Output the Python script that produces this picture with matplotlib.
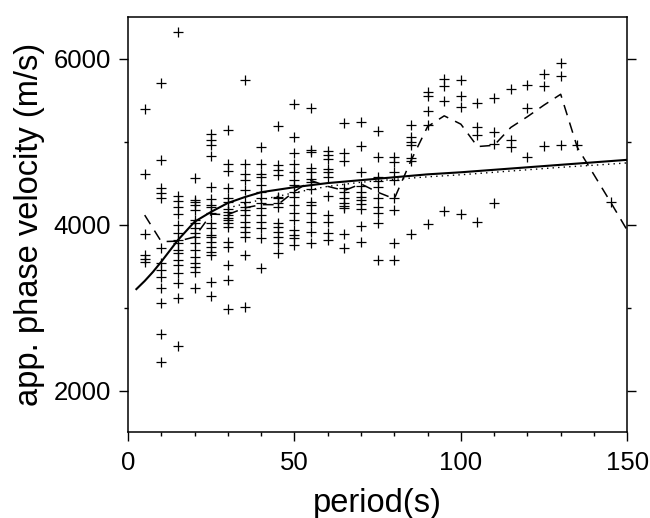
import numpy as np
import matplotlib
matplotlib.use("Agg")
import matplotlib.pyplot as plt
from matplotlib.ticker import MultipleLocator

# observed apparent phase velocities (m/s), one list per period
obs_period = [5, 10, 15, 20, 25, 30, 35, 40, 45, 50, 55, 60, 65, 70,
              75, 80, 85, 90, 95, 100, 105, 110, 115, 120, 125, 130, 135, 145]
obs_velocity = [
    [5390, 4610, 3890, 3630, 3590, 3550],
    [5700, 4780, 4435, 4375, 4315, 3714, 3534, 3454, 3373, 3233, 3053, 2681, 2345],
    [6320, 4340, 4285, 4214, 4130, 3990, 3900, 3814, 3774, 3694, 3654, 3573, 3513,
     3413, 3293, 3113, 2540],
    [4560, 4300, 4270, 4235, 4175, 4055, 4014, 3954, 3900, 3854, 3774, 3694, 3614,
     3534, 3494, 3433, 3233],
    [5090, 5023, 4960, 4830, 4454, 4303, 4234, 4214, 4135, 4014, 3954, 3874, 3854,
     3794, 3734, 3674, 3634, 3313, 3133],
    [5144, 4730, 4643, 4435, 4315, 4274, 4183, 4154, 4114, 4074, 4055, 4014, 3974,
     3794, 3734, 3514, 3333, 2985],
    [5740, 4735, 4615, 4535, 4415, 4274, 4214, 4174, 4114, 4034, 3974, 3914, 3854,
     3634, 3005],
    [4940, 4735, 4615, 4575, 4475, 4395, 4315, 4255, 4195, 4114, 4034, 3954, 3834, 3473],
    [5190, 4720, 4660, 4595, 4334, 4315, 4255, 4214, 4014, 3974, 3914, 3854, 3782, 3654],
    [5450, 5060, 4860, 4735, 4635, 4535, 4475, 4395, 4327, 4234, 4134, 4055, 3934,
     3874, 3834, 3754],
    [5410, 4900, 4875, 4680, 4630, 4550, 4510, 4430, 4270, 4230, 4140, 4034, 3910, 3774],
    [4890, 4840, 4790, 4670, 4630, 4570, 4350, 4110, 4030, 3900, 3814],
    [5220, 4860, 4770, 4435, 4390, 4315, 4255, 4220, 4195, 3882, 3714],
    [5230, 4950, 4630, 4470, 4395, 4335, 4290, 4250, 4190, 3986, 3794],
    [5125, 4810, 4575, 4530, 4455, 4315, 4215, 4134, 4014, 3573],
    [4810, 4750, 4630, 4540, 4315, 4170, 3774, 3573],
    [5205, 5060, 5000, 4960, 4800, 4760, 3886],
    [5595, 5550, 5365, 5205, 4006],
    [5752, 5672, 5492, 4166],
    [5740, 5552, 5420, 4130],
    [5463, 5171, 5083, 4034],
    [5523, 5111, 4971, 4262],
    [5632, 5019, 4931],
    [5680, 5403, 4819],
    [5812, 5672, 4951],
    [5952, 5792, 4963],
    [4960],
    [4270],
]

# model curve (solid)
model_period = [2.5, 5, 7.5, 10, 15, 20, 25, 30, 35, 40, 50, 60, 70, 80, 90,
                100, 110, 120, 130, 140, 150]
model_velocity = [3222, 3320, 3430, 3553, 3814, 4034, 4154, 4260, 4330, 4390, 4450,
                  4500, 4535, 4570, 4605, 4630, 4660, 4690, 4720, 4750, 4780]

# second model curve (dotted)
dot_period = [30, 35, 40, 45, 50, 60, 70, 80, 90, 100, 110, 120, 130, 140, 150]
dot_velocity = [4200, 4250, 4300, 4340, 4385, 4460, 4510, 4545, 4575, 4600,
                4630, 4660, 4690, 4715, 4743]

# averaged observations (dashed)
avg_period = [5, 10, 15, 20, 25, 30, 35, 40, 45, 50, 55, 60, 65, 70, 75, 80,
              85, 90, 95, 100, 105, 110, 115, 120, 125, 130, 135, 140, 145, 150]
avg_velocity = [4114, 3794, 3800, 3850, 4125, 4120, 4200, 4240, 4240, 4400, 4530,
                4460, 4410, 4490, 4390, 4310, 4770, 5180, 5310, 5210, 4940, 4955,
                5170, 5300, 5440, 5570, 4930, 4600, 4270, 3930]


def make_plot(output_path="out.png"):
    plt.rcParams["font.family"] = ["Liberation Sans", "DejaVu Sans"]
    fig = plt.figure(figsize=(6.5, 5.18), dpi=100)
    ax = fig.add_axes([0.197, 0.166, 0.768, 0.801])

    xs = np.concatenate([[p] * len(v) for p, v in zip(obs_period, obs_velocity)])
    ys = np.concatenate([v for v in obs_velocity])
    ax.plot(xs, ys, ls="none", marker="+", ms=7.8, mew=0.9, color="black")

    ax.plot(model_period, model_velocity, color="black", lw=1.5)
    ax.plot(dot_period, dot_velocity, color="black", lw=1.0, ls=(0, (1, 3)))
    ax.plot(avg_period, avg_velocity, color="black", lw=1.1, ls=(0, (7, 5)))

    ax.set_xlim(0, 150)
    ax.set_ylim(1500, 6500)
    ax.xaxis.set_major_locator(MultipleLocator(50))
    ax.xaxis.set_minor_locator(MultipleLocator(10))
    ax.yaxis.set_major_locator(MultipleLocator(2000))
    ax.yaxis.set_minor_locator(MultipleLocator(1000))
    ax.tick_params(which="both", direction="out", right=True, top=False,
                   width=1.0, labelsize=18.5, colors="black")
    ax.tick_params(which="major", length=6.5)
    ax.tick_params(axis="x", which="major", pad=7.5)
    ax.tick_params(axis="y", which="major", pad=6)
    ax.tick_params(which="minor", length=3)
    for s in ax.spines.values():
        s.set_linewidth(1.1)

    ax.set_xlabel("period(s)", fontsize=23.5, labelpad=9)
    ax.set_ylabel("app. phase velocity (m/s)", fontsize=23.5, labelpad=6)

    fig.savefig(output_path, dpi=100)
    plt.close(fig)


if __name__ == "__main__":
    make_plot()
